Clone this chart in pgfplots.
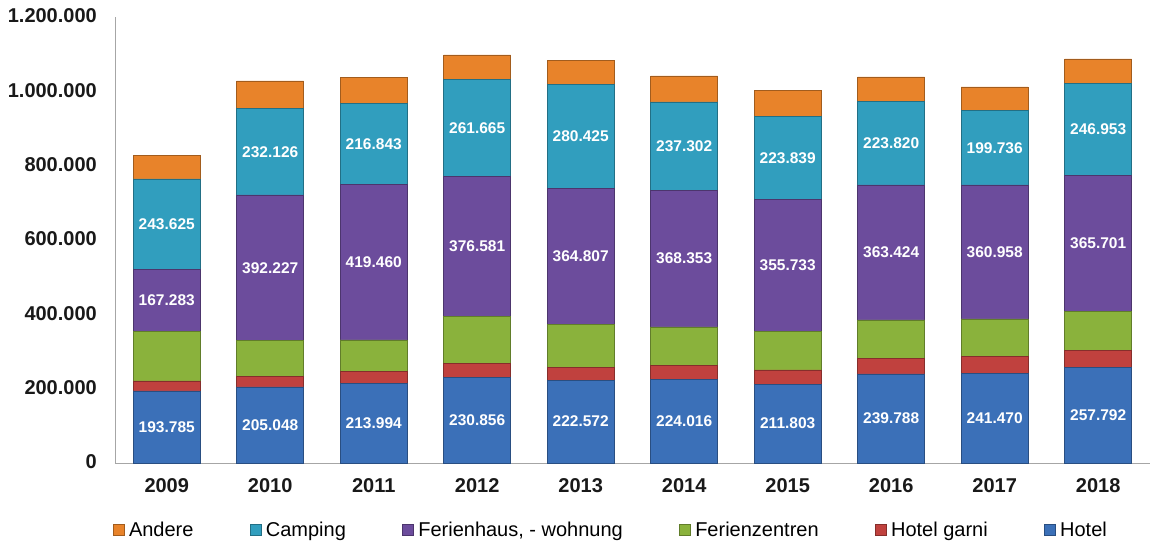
\documentclass[border=0pt]{standalone}
\usepackage{pgfplots}
\pgfplotsset{compat=1.18}
\usepackage{pgfplotstable}
\usepackage{fontspec}
\setmainfont{Liberation Sans}

\definecolor{cHotel}{RGB}{59,112,184}
\definecolor{cGarni}{RGB}{192,65,62}
\definecolor{cFz}{RGB}{138,178,60}
\definecolor{cFh}{RGB}{108,76,156}
\definecolor{cCamp}{RGB}{49,158,190}
\definecolor{cAnd}{RGB}{232,131,42}

\pgfplotstableread{
x year Hotel Garni Fz Fh Camping Andere
0 2009 193785 27000 133000 167283 243625 62000
1 2010 205048 28000 96000 392227 232126 75000
2 2011 213994 33000 84000 419460 216843 70000
3 2012 230856 37000 126000 376581 261665 66000
4 2013 222572 34000 117000 364807 280425 64000
5 2014 224016 38000 104000 368353 237302 70000
6 2015 211803 38600 103000 355733 223839 69000
7 2016 239788 41000 104000 363424 223820 67000
8 2017 241470 45000 101000 360958 199736 64000
9 2018 257792 46000 104000 365701 246953 67000
}\data

\pgfplotsset{
  common/.style={
    scale only axis, width=1035bp, height=446bp,
    xmin=-0.5, xmax=9.5, ymin=0, ymax=1200000,
    anchor=south west, at={(0,0)},
  },
}

\begin{document}
\begin{tikzpicture}
\path[use as bounding box] (-115bp,-81bp) rectangle (1035bp,463bp);
\begin{axis}[common,
  ybar stacked, bar width=67bp,
  axis x line=bottom, axis y line=left,
  axis line style={-, draw=black!35, line width=0.8bp},
  major tick length=0pt,
  xtick={0,...,9},
  xticklabels={2009,2010,2011,2012,2013,2014,2015,2016,2017,2018},
  ytick={0,200000,400000,600000,800000,1000000,1200000},
  scaled y ticks=false,
  /pgf/number format/assume math mode=true,
  /pgf/number format/fixed,
  /pgf/number format/1000 sep={.},
  tick label style={font=\fontsize{20bp}{24bp}\selectfont\bfseries, text=black!90},
  yticklabel style={anchor=east, inner sep=0pt, xshift=-18bp, yshift=1bp},
  xticklabel style={anchor=base, inner sep=0pt, yshift=-29bp},
  legend columns=6,
  reverse legend,
  legend style={at={(0.479,-0.150)}, anchor=center, draw=none, fill=none,
    font=\fontsize{20bp}{23bp}\selectfont,
    /tikz/every even column/.append style={column sep=54bp},
    /tikz/every odd column/.append style={column sep=3bp},
  },
  legend image code/.code={\draw[#1, line width=0.4bp] (0bp,-5.5bp) rectangle (11bp,5.5bp);},
]
\addplot[fill=cHotel, draw=cHotel!70!black, line width=0.5bp] table[x=x,y=Hotel]{\data};
\addlegendentry{Hotel}
\addplot[fill=cGarni, draw=cGarni!70!black, line width=0.5bp] table[x=x,y=Garni]{\data};
\addlegendentry{Hotel garni}
\addplot[fill=cFz, draw=cFz!70!black, line width=0.5bp] table[x=x,y=Fz]{\data};
\addlegendentry{Ferienzentren}
\addplot[fill=cFh, draw=cFh!70!black, line width=0.5bp] table[x=x,y=Fh]{\data};
\addlegendentry{Ferienhaus, - wohnung}
\addplot[fill=cCamp, draw=cCamp!70!black, line width=0.5bp] table[x=x,y=Camping]{\data};
\addlegendentry{Camping}
\addplot[fill=cAnd, draw=cAnd!70!black, line width=0.5bp] table[x=x,y=Andere]{\data};
\addlegendentry{Andere}
\end{axis}
\begin{axis}[common, hide axis,
  /pgf/number format/assume math mode=true,
  /pgf/number format/fixed,
  /pgf/number format/1000 sep={.},
  nodes near coords, point meta=explicit,
  nodes near coords align={anchor=center},
  every node near coord/.append style={font=\fontsize{15.5bp}{18bp}\selectfont\bfseries, text=white, inner sep=0pt},
]
\addplot[draw=none, mark=none] table[x=x, y expr={\thisrow{Hotel}/2}, meta=Hotel]{\data};
\addplot[draw=none, mark=none] table[x=x, y expr={\thisrow{Hotel}+\thisrow{Garni}+\thisrow{Fz}+\thisrow{Fh}/2}, meta=Fh]{\data};
\addplot[draw=none, mark=none] table[x=x, y expr={\thisrow{Hotel}+\thisrow{Garni}+\thisrow{Fz}+\thisrow{Fh}+\thisrow{Camping}/2}, meta=Camping]{\data};
\end{axis}
\end{tikzpicture}
\end{document}
